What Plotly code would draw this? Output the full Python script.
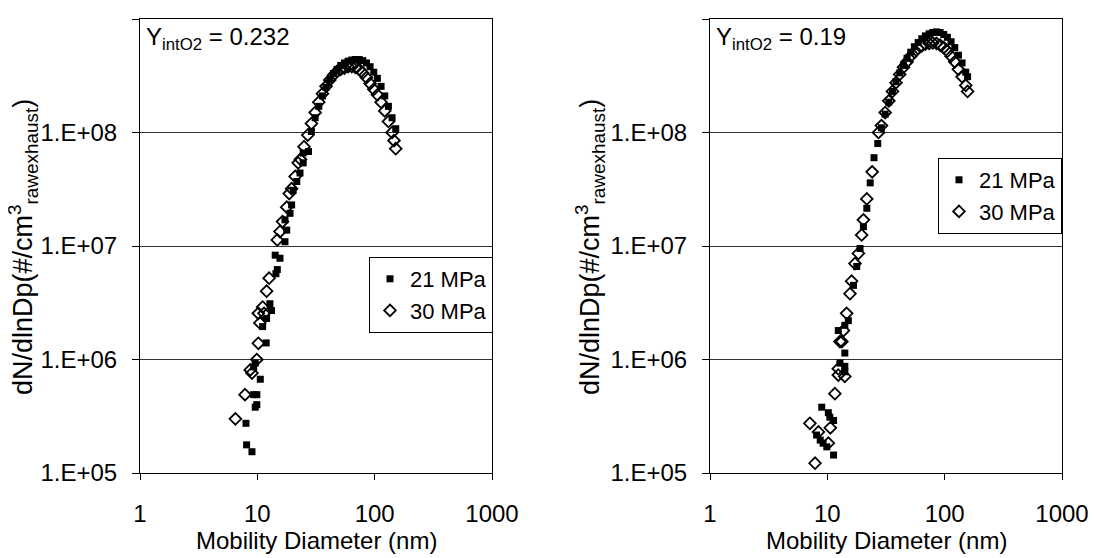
import plotly.graph_objects as go

# ---------------- data ----------------
# Left panel, Y_intO2 = 0.232
left_21_d = [8.1, 9.0, 8.0, 9.6, 9.9, 9.3, 9.9, 10.6, 9.3, 9.6, 11.9, 11.1, 12.0, 13.2, 12.8,
             14.4, 14.8, 15.6, 14.2, 17.2, 17.8, 17.2, 19.0, 19.6, 20.2, 21.7, 23.1, 24.6, 24.6, 27.3,
             28.9, 31.1, 33.4, 35.9, 38.5, 41.4, 44.5, 47.8, 51.4, 55.2, 59.4, 63.8, 68.5, 73.7,
             79.1, 85.1, 91.4, 98.2, 105.5, 113.4, 121.9, 131.0, 140.7, 151.2]
left_21_n = [1.77e5, 1.54e5, 2.74e5, 3.8e5, 4.0e5, 4.9e5, 4.9e5, 6.7e5, 8.6e5, 9.3e5, 1.4e6, 1.95e6, 2.3e6, 2.7e6, 3.1e6,
             5.7e6, 6.2e6, 7.8e6, 8.3e6, 1.09e7, 1.38e7, 1.7e7, 1.94e7, 2.3e7, 3.1e7, 3.7e7, 4.4e7, 5.4e7, 6.6e7, 6.8e7,
             1.02e8, 1.35e8, 1.7e8, 2.1e8, 2.5e8, 2.9e8, 3.3e8, 3.6e8, 3.9e8, 4.1e8, 4.25e8, 4.35e8, 4.4e8, 4.4e8,
             4.3e8, 4.1e8, 3.8e8, 3.4e8, 3.0e8, 2.55e8, 2.1e8, 1.7e8, 1.35e8, 1.08e8]

left_30_d = [6.5, 7.85, 8.7, 9.0, 9.9, 10.2, 10.5, 10.2, 11.1, 11.4, 12.0, 12.6, 14.8, 15.6, 16.4,
             17.8, 18.7, 19.6, 21.0, 22.3, 23.3, 25.0, 26.9, 28.9, 31.1, 33.4, 35.9, 38.5, 41.4,
             44.5, 47.8, 51.4, 55.2, 59.4, 63.8, 68.5, 73.7, 79.1, 85.1, 91.4, 98.2, 105.5,
             113.4, 121.9, 131.0, 140.7, 146.0, 151.2]
left_30_n = [3.0e5, 4.9e5, 8.1e5, 7.6e5, 1.0e6, 1.39e6, 2.1e6, 2.55e6, 2.9e6, 2.55e6, 4.0e6, 5.2e6, 1.13e7, 1.34e7, 1.64e7,
             2.2e7, 2.9e7, 3.2e7, 4.1e7, 5.4e7, 5.8e7, 7.5e7, 9.5e7, 1.2e8, 1.5e8, 1.85e8, 2.2e8, 2.55e8, 2.9e8,
             3.2e8, 3.45e8, 3.6e8, 3.7e8, 3.8e8, 3.8e8, 3.75e8, 3.6e8, 3.35e8, 3.05e8, 2.7e8, 2.4e8, 2.15e8,
             1.85e8, 1.55e8, 1.25e8, 1.0e8, 8.5e7, 7.2e7]

# Right panel, Y_intO2 = 0.19
right_21_d = [8.96, 10.2, 10.5, 11.3, 8.1, 8.7, 9.2, 9.9, 11.3, 12.4, 12.8, 14.1, 14.1, 14.1, 14.1,
              15.1, 16.7, 17.8, 19.0, 20.3, 21.7, 23.2, 25.0, 26.9,
              28.9, 31.1, 33.4, 35.9, 38.5, 41.4, 44.5, 47.8, 51.4, 55.2, 59.4, 63.8, 68.5, 73.7,
              79.1, 85.1, 91.4, 98.2, 105.5, 113.4, 121.9, 131.0, 140.7, 151.2, 156.8]
right_21_n = [3.8e5, 3.4e5, 3.1e5, 2.9e5, 2.16e5, 1.95e5, 1.83e5, 1.7e5, 1.44e5, 1.8e6, 9.3e5, 2.0e6, 1.14e6, 8.7e5, 7.8e5,
              2.2e6, 4.5e6, 6.6e6, 9.5e6, 1.48e7, 2.15e7, 3.6e7, 6.0e7, 8.0e7,
              1.1e8, 1.45e8, 1.85e8, 2.3e8, 2.8e8, 3.35e8, 3.9e8, 4.5e8, 5.1e8, 5.7e8, 6.2e8, 6.7e8, 7.1e8, 7.4e8,
              7.6e8, 7.7e8, 7.6e8, 7.3e8, 6.9e8, 6.3e8, 5.6e8, 4.8e8, 4.1e8, 3.4e8, 3.1e8]

right_30_d = [7.86, 7.1, 8.4, 10.6, 10.2, 11.6, 12.4, 12.4, 14.1, 12.8, 13.3, 13.7, 14.6, 15.6, 16.1,
              17.2, 18.4, 19.6, 20.3, 21.7, 24.1, 27.3,
              28.9, 31.1, 33.4, 35.9, 38.5, 41.4, 44.5, 47.8, 51.4, 55.2, 59.4, 63.8, 68.5, 73.7,
              79.1, 85.1, 91.4, 98.2, 105.5, 113.4, 121.9, 131.0, 140.7, 151.2, 156.8]
right_30_n = [1.22e5, 2.74e5, 2.3e5, 2.5e5, 1.83e5, 5.0e5, 8.3e5, 7.3e5, 7.1e5, 1.44e6, 1.44e6, 1.8e6, 2.55e6, 3.8e6, 4.9e6,
              7.0e6, 8.6e6, 1.25e7, 1.7e7, 2.6e7, 4.5e7, 1.0e8,
              1.15e8, 1.5e8, 1.9e8, 2.3e8, 2.75e8, 3.25e8, 3.75e8, 4.2e8, 4.7e8, 5.1e8, 5.5e8, 5.8e8, 6.0e8, 6.1e8,
              6.15e8, 6.1e8, 5.9e8, 5.6e8, 5.2e8, 4.7e8, 4.2e8, 3.6e8, 3.1e8, 2.6e8, 2.3e8]

x_tickvals = [1, 10, 100, 1000]
x_ticktext = ["1", "10", "100", "1000"]
y_tickvals = [1e5, 1e6, 1e7, 1e8, 1e9]
y_ticktext = ["1.E+05", "1.E+06", "1.E+07", "1.E+08", "1.E+09"]
series_names = ["21 MPa", "30 MPa"]
panel_labels = ["Y<sub>intO2</sub> = 0.232", "Y<sub>intO2</sub> = 0.19"]
x_title = "Mobility Diameter (nm)"
y_title = "dN/dlnDp(#/cm<sup>3</sup><sub>rawexhaust</sub>)"

# ---------------- figure ----------------
OFF = 8                      # page body margin
W, H = 1096 - OFF, 558 - OFF
FONT = "Liberation Sans, Arial, sans-serif"
FS = 24

fig = go.Figure()

filled = dict(symbol="square", size=7, color="black", line=dict(width=0))
hollow = dict(symbol="diamond-open", size=9, color="black", line=dict(width=1.8, color="black"))

fig.add_trace(go.Scatter(x=left_21_d, y=left_21_n, mode="markers", name=series_names[0],
                         marker=filled, xaxis="x", yaxis="y", legend="legend"))
fig.add_trace(go.Scatter(x=left_30_d, y=left_30_n, mode="markers", name=series_names[1],
                         marker=hollow, xaxis="x", yaxis="y", legend="legend"))
fig.add_trace(go.Scatter(x=right_21_d, y=right_21_n, mode="markers", name=series_names[0],
                         marker=filled, xaxis="x2", yaxis="y2", legend="legend2"))
fig.add_trace(go.Scatter(x=right_30_d, y=right_30_n, mode="markers", name=series_names[1],
                         marker=hollow, xaxis="x2", yaxis="y2", legend="legend2"))

px = lambda v: (v - OFF) / W
py = lambda v: 1 - (v - OFF) / H

xl = (140, 492)
xr = (710, 1062)
ytop, ybot = 19, 473

def xaxis(dom, anchor):
    return dict(type="log", range=[0, 3], domain=[px(dom[0]), px(dom[1])], anchor=anchor,
                tickvals=x_tickvals, ticktext=x_ticktext, ticks="outside", ticklen=6,
                tickcolor="black", showline=True, linecolor="black", linewidth=1, mirror=True,
                showgrid=False, zeroline=False, ticklabelstandoff=13,
                tickfont=dict(family=FONT, size=FS, color="black"), automargin=False)

def yaxis(anchor):
    return dict(type="log", range=[5, 9], domain=[py(ybot), py(ytop)], anchor=anchor,
                tickvals=y_tickvals, ticktext=y_ticktext, ticks="outside", ticklen=7,
                tickcolor="black", showline=True, linecolor="black", linewidth=1, mirror=True,
                showgrid=True, gridcolor="#333333", gridwidth=1, zeroline=False,
                ticklabelstandoff=10,
                tickfont=dict(family=FONT, size=FS, color="black"), automargin=False)

legend_common = dict(bgcolor="white", bordercolor="black", borderwidth=1,
                     font=dict(family=FONT, size=22, color="black"),
                     xanchor="right", yanchor="top", tracegroupgap=0, itemwidth=30)

fig.update_layout(
    width=W, height=H, margin=dict(l=0, r=0, t=0, b=0),
    paper_bgcolor="white", plot_bgcolor="white",
    font=dict(family=FONT, size=FS, color="black"),
    xaxis=xaxis(xl, "y"), yaxis=yaxis("x"),
    xaxis2=xaxis(xr, "y2"), yaxis2=yaxis("x2"),
    legend=dict(x=px(493), y=py(257), **legend_common),
    legend2=dict(x=px(1062), y=py(158), **legend_common),
    showlegend=True,
)

annots = []
for dom, lab in ((xl, panel_labels[0]), (xr, panel_labels[1])):
    annots.append(dict(x=px(dom[0] + 4), y=py(38), xref="paper", yref="paper", text=lab,
                       showarrow=False, xanchor="left", yanchor="middle",
                       font=dict(family=FONT, size=FS, color="black")))
    annots.append(dict(x=px((dom[0] + dom[1]) / 2), y=py(540), xref="paper", yref="paper",
                       text=x_title, showarrow=False, xanchor="center", yanchor="middle",
                       font=dict(family=FONT, size=FS, color="black")))
for xc in (23, 590):
    annots.append(dict(x=px(xc), y=py(247), xref="paper", yref="paper", text=y_title,
                       showarrow=False, textangle=-90, xanchor="center", yanchor="middle",
                       font=dict(family=FONT, size=27, color="black")))
fig.update_layout(annotations=annots)

fig.write_html("out.html")
